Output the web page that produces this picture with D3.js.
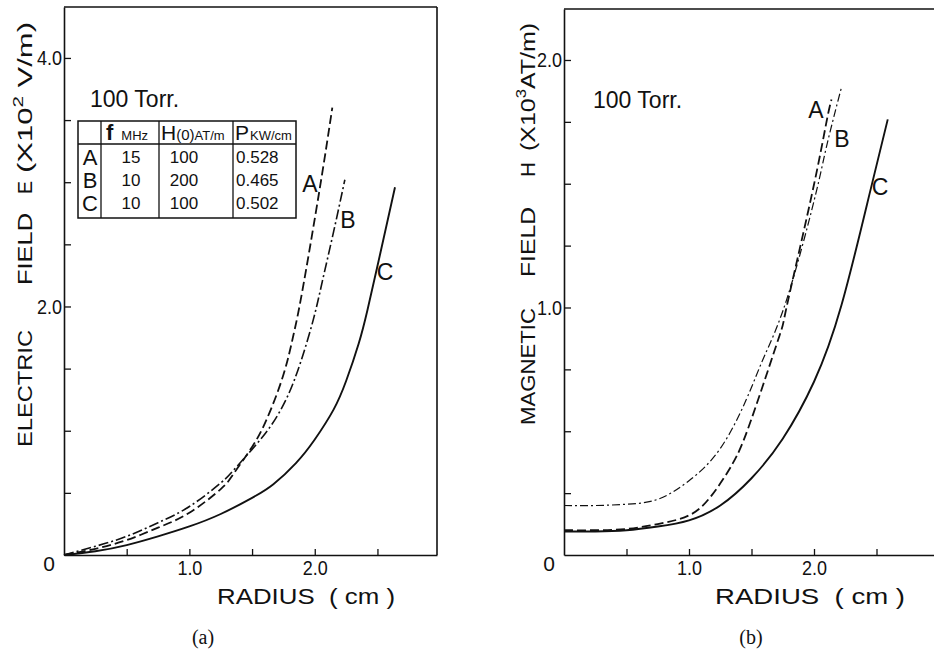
<!DOCTYPE html>
<html>
<head>
<meta charset="utf-8">
<script src="https://cdn.jsdelivr.net/npm/d3@7"></script>
<style>
  html, body { margin: 0; padding: 0; background: #fff; }
  svg { display: block; }
  text { fill: #111; }
</style>
</head>
<body>
<svg id="fig" width="934" height="656" font-family="Liberation Sans, Arial, sans-serif"></svg>
<script>
// ---- Panel (a): electric field E (x10^2 V/m) vs radius (cm) ----
const eA_r = [0, 0.25, 0.5, 0.75, 1.0, 1.25, 1.35, 1.5, 1.62, 1.75, 1.83, 1.9, 2.04, 2.14];
const eA_v = [0, 0.05, 0.12, 0.22, 0.34, 0.53, 0.65, 0.87, 1.10, 1.45, 1.77, 2.12, 2.95, 3.60];
const eB_r = [0, 0.25, 0.5, 0.75, 1.0, 1.25, 1.35, 1.5, 1.65, 1.78, 1.89, 1.99, 2.06, 2.15, 2.24];
const eB_v = [0, 0.07, 0.15, 0.26, 0.39, 0.58, 0.68, 0.85, 1.04, 1.27, 1.56, 1.90, 2.20, 2.60, 3.02];
const eC_r = [0, 0.25, 0.5, 0.75, 1.0, 1.25, 1.5, 1.67, 1.85, 2.0, 2.15, 2.25, 2.35, 2.42, 2.51, 2.64];
const eC_v = [0, 0.03, 0.08, 0.15, 0.23, 0.33, 0.46, 0.57, 0.74, 0.93, 1.17, 1.40, 1.70, 1.97, 2.37, 2.96];

// ---- Panel (b): magnetic field H (x10^3 AT/m) vs radius (cm) ----
const hA_r = [0, 0.25, 0.5, 0.75, 1.0, 1.18, 1.35, 1.5, 1.72, 1.78, 1.98, 2.10, 2.14];
const hA_v = [0.10, 0.10, 0.105, 0.125, 0.16, 0.24, 0.37, 0.55, 0.88, 1.0, 1.45, 1.75, 1.84];
const hB_r = [0, 0.25, 0.5, 0.75, 1.0, 1.25, 1.46, 1.6, 1.78, 2.0, 2.1, 2.22];
const hB_v = [0.20, 0.20, 0.205, 0.225, 0.30, 0.43, 0.63, 0.80, 1.03, 1.43, 1.65, 1.89];
const hC_r = [0, 0.25, 0.5, 0.75, 1.0, 1.25, 1.5, 1.75, 2.0, 2.22, 2.44, 2.59];
const hC_v = [0.095, 0.095, 0.10, 0.115, 0.14, 0.20, 0.31, 0.47, 0.70, 1.01, 1.45, 1.76];

// ---- Axis ticks and labels ----
const radiusTicks = [0.5, 1.0, 1.5, 2.0, 2.5];
const radiusTickLabels = { 1: "1.0", 2: "2.0" };
const eTicks = [0.5, 1.0, 1.5, 2.0, 2.5, 3.0, 3.5, 4.0];
const eTickLabels = { 2: "2.0", 4: "4.0" };
const hTicks = [0.25, 0.5, 0.75, 1.0, 1.25, 1.5, 1.75, 2.0];
const hTickLabels = { 1: "1.0", 2: "2.0" };

// ---- Condition table of panel (a) ----
const caseNames = ["A", "B", "C"];
const freqMHz = ["15", "10", "10"];
const h0ATm = ["100", "200", "100"];
const powerKWcm = ["0.528", "0.465", "0.502"];

const svg = d3.select("#fig");
const zip = (rs, vs) => rs.map((r, i) => [r, vs[i]]);

// line styles per case
const styles = {
  A: { dash: "9,4", width: 1.8 },
  B: { dash: "10,3,2,3", width: 1.6 },
  C: { dash: null, width: 1.9 }
};

function panel(cfg) {
  const g = svg.append("g");
  const x = d3.scaleLinear().domain([0, cfg.xMax]).range([cfg.x0, cfg.x1]);
  const y = d3.scaleLinear().domain([0, cfg.yMax]).range([555, cfg.yTop]);

  // frame lines
  g.append("line").attr("x1", cfg.x0).attr("x2", cfg.frameRight)
    .attr("y1", cfg.yTop).attr("y2", cfg.yTop)
    .attr("stroke", "#111").attr("stroke-width", 1.6);
  if (cfg.rightBorder) {
    g.append("line").attr("x1", cfg.x1).attr("x2", cfg.x1)
      .attr("y1", cfg.yTop).attr("y2", 555)
      .attr("stroke", "#111").attr("stroke-width", 1.6);
  }

  // x axis, ticks pointing inward
  const xAxis = d3.axisBottom(x).tickValues(radiusTicks)
    .tickSizeInner(-6).tickSizeOuter(0).tickPadding(5)
    .tickFormat(d => radiusTickLabels[d] || "");
  const gx = g.append("g").attr("transform", "translate(0,555)").call(xAxis);
  gx.select(".domain").attr("stroke", "#111").attr("stroke-width", 1.6);
  gx.selectAll(".tick line").attr("stroke", "#111").attr("stroke-width", 1.3);
  gx.selectAll(".tick text").attr("font-size", 21).attr("fill", "#111")
    .attr("font-family", "Liberation Sans, Arial, sans-serif")
    .attr("textLength", 25).attr("lengthAdjust", "spacingAndGlyphs");

  // y axis, ticks pointing inward
  const yAxis = d3.axisLeft(y).tickValues(cfg.yTicks)
    .tickSizeInner(-7).tickSizeOuter(0).tickPadding(2)
    .tickFormat(d => cfg.yTickLabels[d] || "");
  const gy = g.append("g").attr("transform", `translate(${cfg.x0},0)`).call(yAxis);
  gy.select(".domain").attr("stroke", "#111").attr("stroke-width", 1.6);
  gy.selectAll(".tick line").attr("stroke", "#111").attr("stroke-width", 1.3);
  gy.selectAll(".tick text").attr("font-size", 21).attr("fill", "#111")
    .attr("font-family", "Liberation Sans, Arial, sans-serif")
    .attr("textLength", 25).attr("lengthAdjust", "spacingAndGlyphs");

  // origin label
  g.append("text").attr("x", cfg.x0 - 9).attr("y", 571).attr("text-anchor", "end")
    .attr("font-size", 21).text("0");

  // curves (smooth cubic spline through the read-off points)
  const line = d3.line().x(d => x(d[0])).y(d => y(d[1])).curve(d3.curveNatural);
  cfg.series.forEach(s => {
    const st = styles[s.name];
    g.append("path").datum(zip(s.r, s.v))
      .attr("d", line).attr("fill", "none").attr("stroke", "#111")
      .attr("stroke-width", s.width || st.width)
      .attr("stroke-dasharray", s.dash || st.dash)
      .attr("stroke-linecap", "butt");
    g.append("text").attr("x", s.lx).attr("y", s.ly).attr("text-anchor", "middle")
      .attr("font-size", 23).text(s.name);
  });

  // x-axis title
  g.append("text").attr("x", cfg.xtX).attr("y", 604).attr("font-size", 22)
    .attr("textLength", cfg.xtLen).attr("lengthAdjust", "spacingAndGlyphs")
    .attr("xml:space", "preserve").text("RADIUS  ( cm )");

  // rotated y-axis title, placed word by word
  cfg.yTitle.forEach(p => {
    const t = g.append("text")
      .attr("transform", `translate(${cfg.ytBase},${p.bottom}) rotate(-90)`)
      .attr("font-size", 21)
      .attr("textLength", p.len).attr("lengthAdjust", "spacingAndGlyphs");
    if (p.sup) {
      t.append("tspan").text(p.pre);
      t.append("tspan").attr("font-size", 14).attr("dy", -9).text(p.sup);
      t.append("tspan").attr("dy", 9).text(p.post);
    } else {
      t.text(p.text);
    }
  });

  // pressure note
  g.append("text").attr("x", cfg.torrX).attr("y", cfg.torrY).attr("font-size", 23)
    .text("100 Torr.");

  // panel caption (serif)
  g.append("text").attr("x", cfg.capX).attr("y", 644)
    .attr("text-anchor", "middle").attr("font-size", 20)
    .attr("font-family", "Liberation Serif, 'Times New Roman', serif").text(cfg.caption);

  return { g, x, y };
}

panel({
  x0: 64, x1: 437, xMax: 2.975, frameRight: 437, rightBorder: true,
  yTop: 7, yMax: 4.41, yTicks: eTicks, yTickLabels: eTickLabels,
  xtX: 217, xtLen: 178,
  ytBase: 32,
  yTitle: [
    { text: "ELECTRIC", bottom: 447, len: 117 },
    { text: "FIELD", bottom: 285, len: 72 },
    { text: "E", bottom: 194, len: 13 },
    { pre: "(X10", sup: "2", post: " V/m)", bottom: 173, len: 151 }
  ],
  torrX: 90, torrY: 107,
  capX: 203, caption: "(a)",
  series: [
    { name: "A", r: eA_r, v: eA_v, lx: 310, ly: 192 },
    { name: "B", r: eB_r, v: eB_v, lx: 348, ly: 228 },
    { name: "C", r: eC_r, v: eC_v, lx: 385, ly: 280 }
  ]
});

panel({
  x0: 564, x1: 939, xMax: 3.0, frameRight: 934, rightBorder: false,
  yTop: 9, yMax: 2.206, yTicks: hTicks, yTickLabels: hTickLabels,
  xtX: 715, xtLen: 190,
  ytBase: 535,
  yTitle: [
    { text: "MAGNETIC", bottom: 425, len: 117 },
    { text: "FIELD", bottom: 277, len: 70 },
    { text: "H", bottom: 177, len: 15 },
    { pre: "(X10", sup: "3", post: "AT/m)", bottom: 151, len: 128 }
  ],
  torrX: 593, torrY: 108,
  capX: 751, caption: "(b)",
  series: [
    { name: "A", r: hA_r, v: hA_v, lx: 816, ly: 118 },
    { name: "B", r: hB_r, v: hB_v, lx: 842, ly: 147, dash: "8,3,2,3", width: 1.2 },
    { name: "C", r: hC_r, v: hC_v, lx: 880, ly: 195 }
  ]
});

// condition table inside panel (a)
(function table() {
  const tx0 = 78, tx1 = 296, ty0 = 121, ty1 = 218, headY = 144;
  const cols = [101, 159, 233];
  const tg = svg.append("g");
  tg.append("rect").attr("x", tx0).attr("y", ty0).attr("width", tx1 - tx0)
    .attr("height", ty1 - ty0).attr("fill", "none").attr("stroke", "#111").attr("stroke-width", 1.5);
  tg.append("line").attr("x1", tx0).attr("x2", tx1).attr("y1", headY).attr("y2", headY)
    .attr("stroke", "#111").attr("stroke-width", 1.3);
  cols.forEach(c => tg.append("line").attr("x1", c).attr("x2", c)
    .attr("y1", ty0).attr("y2", ty1).attr("stroke", "#111").attr("stroke-width", 1.3));

  // header
  const h1 = tg.append("text").attr("x", 106).attr("y", 140);
  h1.append("tspan").attr("font-size", 22).attr("font-weight", "bold").text("f");
  h1.append("tspan").attr("font-size", 13).attr("dx", 8).text("MHz");
  const h2 = tg.append("text").attr("x", 161).attr("y", 140);
  h2.append("tspan").attr("font-size", 21).text("H");
  h2.append("tspan").attr("font-size", 15).text("(0)");
  h2.append("tspan").attr("font-size", 13).text("AT/m");
  const h3 = tg.append("text").attr("x", 235).attr("y", 140);
  h3.append("tspan").attr("font-size", 21).text("P");
  h3.append("tspan").attr("font-size", 13).attr("dx", 1).text("KW/cm");

  const rowY = [165, 188, 211];
  caseNames.forEach((n, i) => {
    tg.append("text").attr("x", 90).attr("y", rowY[i]).attr("text-anchor", "middle")
      .attr("font-size", 22).text(n);
    tg.append("text").attr("x", 131).attr("y", rowY[i] - 2).attr("text-anchor", "middle")
      .attr("font-size", 17).text(freqMHz[i]);
    tg.append("text").attr("x", 184).attr("y", rowY[i] - 2).attr("text-anchor", "middle")
      .attr("font-size", 17).text(h0ATm[i]);
    tg.append("text").attr("x", 236).attr("y", rowY[i] - 2).attr("text-anchor", "start")
      .attr("font-size", 17).text(powerKWcm[i]);
  });
})();
</script>
</body>
</html>
